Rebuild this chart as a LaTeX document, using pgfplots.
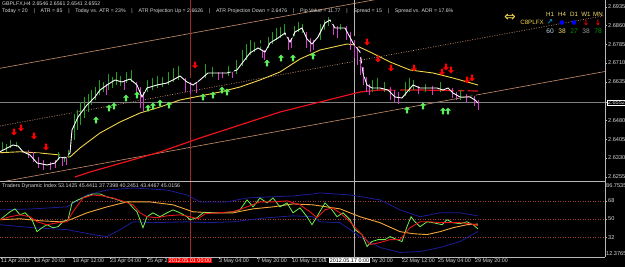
\documentclass[border=0pt]{standalone}
\usepackage{fontspec}
\setmainfont{Liberation Sans}
\newfontfamily\dejavu{DejaVu Sans}
\usepackage{pgfplots}
\pgfplotsset{compat=1.18}
\definecolor{mtgreen}{HTML}{22A022}
\definecolor{mtmag}{HTML}{D040C8}
\definecolor{mtyel}{HTML}{F2D54A}
\definecolor{mtred}{HTML}{E8141A}
\definecolor{mttan}{HTML}{C8906E}
\definecolor{arrgreen}{HTML}{5CF05C}
\definecolor{tdigreen}{HTML}{70F050}
\definecolor{tdiorange}{HTML}{F5A83A}
\definecolor{tdiblue}{HTML}{1C1C98}
\definecolor{dotred}{HTML}{A03C3C}
\definecolor{vred}{HTML}{A02828}
\definecolor{txt}{HTML}{D8D8D8}
\definecolor{frame}{HTML}{B8B8B8}
\pgfdeclareplotmark{mtup}{%
 \pgfpathmoveto{\pgfqpoint{0pt}{1.1\pgfplotmarksize}}%
 \pgfpathlineto{\pgfqpoint{1\pgfplotmarksize}{0.1\pgfplotmarksize}}%
 \pgfpathlineto{\pgfqpoint{0.35\pgfplotmarksize}{0.1\pgfplotmarksize}}%
 \pgfpathlineto{\pgfqpoint{0.35\pgfplotmarksize}{-1.1\pgfplotmarksize}}%
 \pgfpathlineto{\pgfqpoint{-0.35\pgfplotmarksize}{-1.1\pgfplotmarksize}}%
 \pgfpathlineto{\pgfqpoint{-0.35\pgfplotmarksize}{0.1\pgfplotmarksize}}%
 \pgfpathlineto{\pgfqpoint{-1\pgfplotmarksize}{0.1\pgfplotmarksize}}%
 \pgfpathclose\pgfusepathqfill}
\pgfdeclareplotmark{mtdown}{%
 \pgfpathmoveto{\pgfqpoint{0pt}{-1.1\pgfplotmarksize}}%
 \pgfpathlineto{\pgfqpoint{1\pgfplotmarksize}{-0.1\pgfplotmarksize}}%
 \pgfpathlineto{\pgfqpoint{0.35\pgfplotmarksize}{-0.1\pgfplotmarksize}}%
 \pgfpathlineto{\pgfqpoint{0.35\pgfplotmarksize}{1.1\pgfplotmarksize}}%
 \pgfpathlineto{\pgfqpoint{-0.35\pgfplotmarksize}{1.1\pgfplotmarksize}}%
 \pgfpathlineto{\pgfqpoint{-0.35\pgfplotmarksize}{-0.1\pgfplotmarksize}}%
 \pgfpathlineto{\pgfqpoint{-1\pgfplotmarksize}{-0.1\pgfplotmarksize}}%
 \pgfpathclose\pgfusepathqfill}
\pgfplotsset{mtbase/.style={scale only axis, width=605pt, xmin=0, xmax=605,
  anchor=south west, /pgf/number format/assume math mode=true,
  tick align=outside, major tick length=2pt, tick style={frame, line width=0.4pt},
  yticklabel style={font=\fontsize{5.6}{6}\selectfont, text=txt, inner sep=1pt},
  y axis line style={frame, line width=0.6pt}}}
\newcommand{\sep}{\hspace{5.8pt}|\hspace{5.8pt}}
\begin{document}
\begin{tikzpicture}
\path[use as bounding box] (0,0) rectangle (625pt,267pt);
\fill[black] (0,0) rectangle (625pt,267pt);
% ================= main price panel =================
\begin{axis}[mtbase, at={(0pt,86pt)}, height=181pt, ymin=2.6238, ymax=2.6962,
  hide x axis, axis y line*=right,
  ytick={2.6255,2.6330,2.6405,2.6480,2.6635,2.6710,2.6785,2.6860,2.6935},
  yticklabels={2.6255,2.6330,2.6405,2.6480,2.6635,2.6710,2.6785,2.6860,2.6935},
  extra y ticks={2.6552}, extra y tick labels={2.6552},
  extra y tick style={yticklabel style={draw=white, fill=black, line width=0.4pt, inner sep=0.7pt}}]
% regression channel
\addplot[mttan, line width=0.6pt] coordinates {(0,2.66888) (605,2.71316)};
\addplot[mttan, line width=0.6pt, dash pattern=on 1pt off 1.5pt] coordinates {(0,2.6458) (605,2.68998)};
\addplot[mttan, line width=0.6pt] coordinates {(0,2.62332) (605,2.6676)};
% current price line
\addplot[gray, line width=0.5pt] coordinates {(0,2.6552) (605,2.6552)};
% crosshair lines
\addplot[vred, line width=0.6pt] coordinates {(190,2.6238) (190,2.6962)};
\addplot[frame, line width=0.6pt] coordinates {(354,2.6238) (354,2.6962)};
% long red MA
\addplot[mtred, line width=1.2pt] coordinates {(75,2.6254) (90,2.6274) (97,2.6282) (160,2.6354) (200,2.6410) (240,2.6462) (280,2.6514) (320,2.6554) (340,2.6574) (360,2.6594) (380,2.6602) (420,2.6602) (478,2.6598)};
% yellow MA
\addplot[mtyel, line width=0.9pt] coordinates {(0,2.6351) (20,2.6355) (40,2.6350) (60,2.6342) (70,2.6334) (80,2.6370) (100,2.6430) (120,2.6474) (140,2.6510) (160,2.6534) (180,2.6562) (200,2.6578) (220,2.6594) (240,2.6614) (260,2.6642) (280,2.6674) (300,2.6726) (320,2.6762) (347,2.6786) (355,2.6782) (370,2.6754) (390,2.6714) (410,2.6682) (433,2.6670) (453,2.6650) (478,2.6622)};
% candles (high and range)
\addplot[only marks, mark=none, error bars/.cd, y dir=minus, y explicit, error mark=none,
  error bar style={mtgreen, line width=1pt}] table[x=x, y=h, y error minus=l] {
x h l
2 2.6402 0.0040
6 2.6394 0.0040
10 2.6410 0.0040
16 2.6402 0.0028
58 2.6362 0.0040
64 2.6354 0.0040
68 2.6370 0.0040
74 2.6514 0.0112
77 2.6530 0.0088
80 2.6562 0.0100
84 2.6582 0.0092
88 2.6594 0.0080
91 2.6610 0.0068
95 2.6622 0.0060
99 2.6650 0.0068
103 2.6642 0.0048
108 2.6674 0.0072
112 2.6662 0.0052
116 2.6682 0.0060
120 2.6666 0.0048
126 2.6682 0.0052
131 2.6690 0.0056
147 2.6650 0.0056
152 2.6658 0.0056
157 2.6666 0.0056
162 2.6662 0.0048
168 2.6682 0.0060
173 2.6698 0.0064
178 2.6706 0.0064
205 2.6714 0.0064
212 2.6702 0.0048
228 2.6706 0.0048
236 2.6730 0.0064
242 2.6770 0.0072
246 2.6794 0.0072
250 2.6810 0.0068
254 2.6802 0.0048
260 2.6810 0.0048
268 2.6822 0.0052
272 2.6842 0.0056
276 2.6858 0.0056
280 2.6862 0.0052
284 2.6874 0.0052
294 2.6866 0.0048
298 2.6882 0.0048
302 2.6874 0.0044
320 2.6874 0.0072
324 2.6890 0.0048
328 2.6902 0.0044
340 2.6874 0.0032
372 2.6650 0.0056
377 2.6658 0.0056
384 2.6642 0.0048
405 2.6642 0.0064
409 2.6658 0.0064
413 2.6650 0.0048
425 2.6634 0.0040
440 2.6642 0.0048
460 2.6610 0.0048
};
\addplot[only marks, mark=none, error bars/.cd, y dir=minus, y explicit, error mark=none,
  error bar style={mtmag, line width=1pt}] table[x=x, y=h, y error minus=l] {
x h l
28 2.6370 0.0040
33 2.6362 0.0048
38 2.6342 0.0052
43 2.6330 0.0048
50 2.6322 0.0040
55 2.6330 0.0040
62 2.6342 0.0044
66 2.6342 0.0040
106 2.6634 0.0052
124 2.6650 0.0048
136 2.6642 0.0060
140 2.6622 0.0092
143 2.6602 0.0088
185 2.6658 0.0064
190 2.6642 0.0056
196 2.6642 0.0052
218 2.6682 0.0040
222 2.6682 0.0032
232 2.6682 0.0032
262 2.6782 0.0052
264 2.6770 0.0048
288 2.6822 0.0060
291 2.6818 0.0048
306 2.6842 0.0072
310 2.6818 0.0064
313 2.6810 0.0048
333 2.6874 0.0052
337 2.6866 0.0056
346 2.6866 0.0064
350 2.6842 0.0080
354 2.6810 0.0080
357 2.6782 0.0080
360 2.6742 0.0080
363 2.6702 0.0080
366 2.6662 0.0068
369 2.6634 0.0052
390 2.6622 0.0060
394 2.6610 0.0056
398 2.6602 0.0056
418 2.6626 0.0040
432 2.6626 0.0044
452 2.6618 0.0048
456 2.6602 0.0040
466 2.6594 0.0040
474 2.6586 0.0048
478 2.6570 0.0048
};
% white smoothed price
\addplot[white, line width=0.9pt] coordinates {(0,2.6355) (13,2.6382) (18,2.6378) (23,2.6355) (30,2.6342) (37,2.6310) (47,2.6302) (55,2.6310) (60,2.6334) (65,2.6330) (70,2.6350) (72,2.6442) (78,2.6494) (87,2.6542) (95,2.6574) (100,2.6602) (107,2.6622) (115,2.6642) (122,2.6634) (130,2.6646) (137,2.6622) (142,2.6574) (147,2.6610) (157,2.6622) (167,2.6630) (173,2.6642) (180,2.6658) (187,2.6634) (193,2.6622) (200,2.6642) (208,2.6670) (217,2.6670) (227,2.6670) (237,2.6682) (243,2.6714) (250,2.6750) (258,2.6770) (265,2.6754) (270,2.6790) (278,2.6810) (285,2.6830) (290,2.6794) (295,2.6834) (302,2.6850) (307,2.6806) (312,2.6786) (318,2.6814) (325,2.6870) (330,2.6882) (335,2.6850) (345,2.6850) (353,2.6790) (360,2.6754) (363,2.6670) (367,2.6622) (372,2.6610) (380,2.6610) (388,2.6602) (395,2.6574) (402,2.6570) (407,2.6594) (413,2.6622) (420,2.6610) (430,2.6610) (437,2.6610) (443,2.6602) (448,2.6610) (453,2.6590) (460,2.6574) (470,2.6574) (475,2.6562) (478,2.6550)};
% signal arrows
\addplot[only marks, mark=mtdown, mark size=3pt, color=red] coordinates {(14,2.6434) (21,2.6450) (34,2.6418) (46,2.6374) (195,2.6702) (367,2.6794) (378,2.6726) (391,2.6690) (414,2.6690) (442,2.6674) (446,2.6694) (451,2.6682) (467,2.6642) (472,2.6650)};
\addplot[only marks, mark=mtup, mark size=3pt, color=arrgreen] coordinates {(96,2.6482) (109,2.6530) (114,2.6538) (126,2.6570) (137,2.6582) (148,2.6530) (153,2.6538) (160,2.6550) (169,2.6542) (203,2.6574) (213,2.6582) (222,2.6602) (227,2.6594) (267,2.6710) (281,2.6730) (293,2.6730) (313,2.6738) (407,2.6522) (423,2.6538) (443,2.6518) (448,2.6518)};
\end{axis}
% ================= Traders Dynamic Index panel =================
\begin{axis}[mtbase, at={(0pt,10pt)}, height=75pt, ymin=12.3765, ymax=86.7535,
  axis x line*=bottom, axis y line*=right, x axis line style={frame, line width=0.8pt},
  ytick={32,50,68}, yticklabels={32,50,68},
  xtick={1,34,73,110,147,219,257,292,324,372,402,438,475},
  xticklabels={11 Apr 2012,13 Apr 20:00,18 Apr 12:00,23 Apr 04:00,25 Apr 2,3 May 04:00,7 May 20:00,10 May 12:00,1,ay 20:00,22 May 12:00,25 May 04:00,29 May 20:00},
  xticklabel style={font=\fontsize{5.4}{6}\selectfont, text=txt, anchor=north west, inner sep=0.5pt, xshift=-0.5pt, yshift=0.5pt}]
\addplot[dotred, line width=0.6pt, dash pattern=on 1pt off 1.5pt] coordinates {(0,68) (605,68)};
\addplot[dotred, line width=0.6pt, dash pattern=on 1pt off 1.5pt] coordinates {(0,50) (605,50)};
\addplot[dotred, line width=0.6pt, dash pattern=on 1pt off 1.5pt] coordinates {(0,32) (605,32)};
\addplot[vred, line width=0.6pt] coordinates {(190,12.3765) (190,86.7535)};
\addplot[frame, line width=0.6pt] coordinates {(354,12.3765) (354,86.7535)};
% volatility bands
\addplot[tdiblue, line width=0.8pt] coordinates {(0,59.1) (33,60.1) (67,62.1) (87,73.9) (107,78.8) (133,80.8) (167,78.8) (187,73.9) (200,67.0) (227,67.0) (247,70.9) (267,71.9) (293,72.9) (313,74.9) (320,75.9) (350,73.9) (380,69.0) (400,59.1) (420,52.3) (440,56.2) (460,56.2) (478,53.1)};
\addplot[tdiblue, line width=0.8pt] coordinates {(0,44.4) (33,41.4) (67,39.5) (93,34.6) (107,32.6) (120,39.5) (133,47.3) (153,46.4) (187,47.3) (207,46.4) (233,47.3) (267,51.3) (293,53.2) (313,52.3) (320,47.3) (340,46.4) (360,32.6) (380,21.8) (400,16.9) (420,17.8) (440,21.8) (460,27.7) (478,37.7)};
% market base line
\addplot[tdiorange, line width=0.9pt] coordinates {(0,49.3) (20,50.3) (40,48.3) (60,47.3) (70,49.3) (87,56.2) (107,62.1) (127,67.0) (150,67.0) (173,64.1) (193,57.2) (213,56.2) (233,56.2) (253,60.1) (273,62.1) (293,65.0) (313,64.1) (340,60.1) (360,52.3) (380,46.4) (400,37.5) (413,35.5) (427,34.6) (440,37.5) (453,41.4) (467,44.4) (478,45.0)};
% RSI price line
\addplot[tdigreen, line width=0.8pt] coordinates {(0,49.3) (10,57.2) (15,60.1) (20,54.2) (25,56.2) (32,49.3) (37,37.5) (42,41.4) (47,44.4) (53,41.4) (58,42.4) (63,47.3) (68,49.3) (72,66.0) (78,69.0) (87,72.9) (93,74.9) (100,74.9) (107,71.9) (115,70.0) (123,67.0) (128,67.0) (133,61.1) (137,57.2) (140,49.3) (143,41.4) (147,52.3) (153,56.2) (160,52.3) (167,56.2) (173,59.1) (180,56.2) (187,52.3) (190,49.3) (197,51.3) (203,56.2) (213,56.2) (223,56.2) (233,57.2) (240,59.1) (247,69.0) (253,62.1) (260,70.9) (267,66.0) (273,70.9) (280,62.1) (287,66.0) (293,56.2) (300,61.1) (307,52.3) (312,44.4) (318,54.2) (325,66.0) (332,59.1) (337,52.3) (343,56.2) (350,49.3) (355,39.5) (362,34.6) (367,22.8) (372,27.7) (378,29.6) (385,29.6) (390,32.6) (397,29.6) (402,27.7) (407,42.4) (411,52.3) (415,47.3) (420,42.4) (427,47.3) (433,46.4) (442,44.4) (447,49.3) (453,46.4) (460,45.4) (467,47.3) (473,44.4) (478,40.2)};
% trade signal line
\addplot[mtred, line width=0.9pt] coordinates {(0,49.3) (10,52.3) (20,54.2) (30,52.3) (37,47.3) (47,44.4) (58,46.4) (67,47.3) (73,57.2) (83,70.9) (93,73.9) (103,72.9) (113,70.9) (125,67.0) (133,64.1) (140,56.2) (147,52.3) (157,51.3) (167,53.2) (180,54.2) (190,52.3) (198,50.3) (205,55.2) (217,56.2) (233,57.2) (247,62.1) (260,67.0) (273,67.0) (287,68.0) (300,64.1) (310,57.2) (317,51.3) (325,59.1) (332,61.1) (340,56.2) (350,47.3) (360,36.5) (370,24.7) (380,26.7) (390,29.6) (400,29.6) (410,41.4) (420,47.3) (430,47.3) (440,46.4) (450,46.4) (460,46.4) (470,45.4) (478,43.4)};
\coordinate (rb) at (axis cs:190,12.3765);
\coordinate (wb) at (axis cs:349.5,12.3765);
\end{axis}
% frame lines
\draw[frame, line width=1.2pt] (0pt,85.5pt) -- (605pt,85.5pt);
\draw[frame, line width=0.6pt] (605pt,10pt) -- (605pt,267pt);
\node[anchor=north west, inner sep=0.5pt, text=txt, font=\fontsize{5.6}{6}\selectfont] at (605.5pt,84.5pt) {86.7535};
\node[anchor=south west, inner sep=0.5pt, text=txt, font=\fontsize{5.6}{6}\selectfont] at (605.5pt,11pt) {12.3765};
% crosshair time boxes
\node[anchor=north, fill=red, text=white, inner sep=0.8pt, font=\fontsize{5.4}{6}\selectfont] at ([yshift=-0.8pt]rb) {2012.05.01 00:00};
\node[anchor=north, fill=white, text=black, inner sep=0.8pt, font=\fontsize{5.4}{6}\selectfont] at ([yshift=-0.8pt]wb) {2012.05.17 0:00};
% header text
\node[anchor=west, inner sep=0pt, text=txt, font=\fontsize{5.2}{6}\selectfont] at (2pt,262.5pt) {GBPLFX,H4 2.6546 2.6561 2.6541 2.6552};
\node[anchor=west, inner sep=0pt, text=txt, font=\fontsize{5.2}{6}\selectfont] at (2pt,256pt) {Today = 20\sep ATR = 85\sep Today vs. ATR = 23\%\sep ATR Projection Up = 2.6626\sep ATR Projection Down = 2.6476\sep Pip Value = 11.77\sep Spread = 15\sep Spread vs. ADR = 17.6\%};
\node[anchor=west, inner sep=0pt, text=txt, font=\fontsize{5.3}{6}\selectfont] at (2pt,81pt) {Traders Dynamic Index 53.1425 45.4411 37.7398 40.2451 43.4467 45.0156};
% multi-timeframe widget
\node[text=mtyel, font=\dejavu\fontsize{14}{14}\selectfont, inner sep=0pt] at (510pt,249.5pt) {⇔};
\begin{scope}[every node/.style={inner sep=0pt, font=\fontsize{6.2}{7}\selectfont}]
\node[text=mtyel!80!white] at (550pt,253pt) {H1};
\node[text=mtyel!80!white] at (562pt,253pt) {H4};
\node[text=mtyel!80!white] at (574pt,253pt) {D1};
\node[text=mtyel!80!white] at (586pt,253pt) {W1};
\node[text=mtyel!80!white] at (598pt,253pt) {MN};
\node[text=mtyel] at (532pt,244.5pt) {C8PLFX};
\node[text=cyan!70!blue, font=\dejavu\bfseries\fontsize{7.5}{7}\selectfont] at (550pt,244.5pt) {↗};
\node[text=blue, font=\dejavu\fontsize{6}{7}\selectfont] at (562pt,244.5pt) {●};
\node[text=blue, font=\dejavu\fontsize{6}{7}\selectfont] at (574pt,244.5pt) {●};
\node[text=red, font=\dejavu\bfseries\fontsize{7.5}{7}\selectfont] at (586pt,244.5pt) {↓};
\node[text=red, font=\dejavu\bfseries\fontsize{7.5}{7}\selectfont] at (598pt,244.5pt) {↓};
\node[text=gray!60!cyan!40!white, font=\fontsize{6.6}{7}\selectfont] at (550pt,236pt) {60};
\node[text=mtyel!85!white, font=\fontsize{6.6}{7}\selectfont] at (562pt,236pt) {38};
\node[text=green!60!black, font=\fontsize{6.6}{7}\selectfont] at (574pt,236pt) {27};
\node[text=gray!80!white, font=\fontsize{6.6}{7}\selectfont] at (586pt,236pt) {38};
\node[text=green!60!black, font=\fontsize{6.6}{7}\selectfont] at (598pt,236pt) {78};
\end{scope}
\end{tikzpicture}
\end{document}
